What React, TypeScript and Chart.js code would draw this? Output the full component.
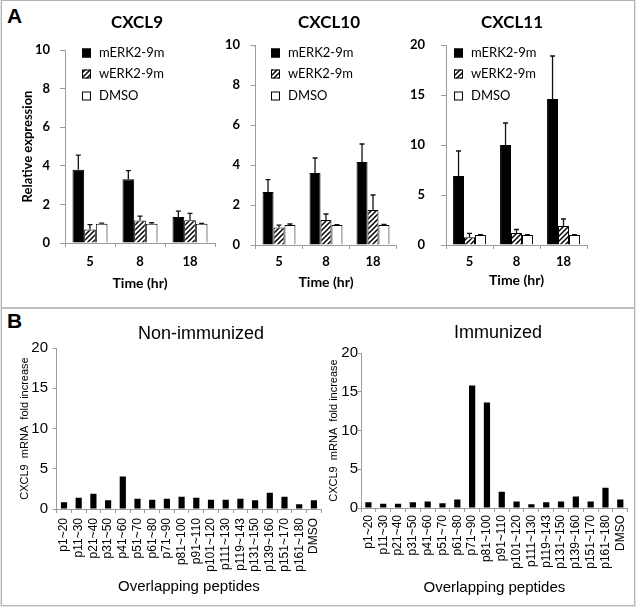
import React, { useEffect, useRef } from 'react';
import { Chart, registerables } from 'chart.js';

Chart.register(...registerables);

// ---------- Data ----------
const timeLabels = ['5', '8', '18'];
const seriesNames = ['mERK2-9m', 'wERK2-9m', 'DMSO'];

const cxcl9M = [3.8, 3.3, 1.35];
const cxcl9MErr = [0.75, 0.45, 0.3];
const cxcl9W = [0.7, 1.17, 1.18];
const cxcl9WErr = [0.25, 0.22, 0.35];
const cxcl9D = [1.0, 1.0, 1.0];
const cxcl9DErr = [0.03, 0.05, 0.02];

const cxcl10M = [2.65, 3.6, 4.15];
const cxcl10MErr = [0.62, 0.75, 0.9];
const cxcl10W = [0.87, 1.25, 1.75];
const cxcl10WErr = [0.12, 0.3, 0.75];
const cxcl10D = [1.0, 1.0, 1.0];
const cxcl10DErr = [0.05, 0.02, 0.03];

const cxcl11M = [6.9, 10.0, 14.6];
const cxcl11MErr = [2.5, 2.2, 4.3];
const cxcl11W = [0.77, 1.2, 1.9];
const cxcl11WErr = [0.4, 0.35, 0.7];
const cxcl11D = [1.0, 1.0, 1.0];
const cxcl11DErr = [0.03, 0.03, 0.03];

const peptides = [
  'p1~20', 'p11~30', 'p21~40', 'p31~50', 'p41~60', 'p51~70', 'p61~80', 'p71~90', 'p81~100',
  'p91~110', 'p101~120', 'p111~130', 'p119~143', 'p131~150', 'p139~160', 'p151~170', 'p161~180', 'DMSO',
];
const nonImmunized = [0.83, 1.4, 1.9, 1.08, 4.05, 1.28, 1.16, 1.28, 1.52, 1.4, 1.16, 1.16, 1.28, 1.08, 2.03, 1.52, 0.58, 1.08];
const immunized = [0.75, 0.55, 0.55, 0.75, 0.85, 0.6, 1.1, 15.8, 13.6, 2.1, 0.85, 0.5, 0.75, 0.85, 1.5, 0.85, 2.6, 1.1];

// ---------- Helpers ----------
const FONT_A = 'Lato, "Open Sans", sans-serif';
const FONT_B = '"Liberation Sans", Arial, sans-serif';
const AXIS_GRAY = '#9c9c9c';

type Frame = { cx: number; cy: number; cw: number; ch: number; L: number; T: number; R: number; B: number };

function layoutOf(f: Frame) {
  return {
    padding: { left: 0, top: f.T - f.cy, right: f.cx + f.cw - f.R, bottom: 0 },
    yW: f.L - f.cx,
    xH: f.cy + f.ch - f.B,
  };
}

function makeHatch(): any {
  const p = document.createElement('canvas');
  p.width = 5;
  p.height = 5;
  const c = p.getContext('2d');
  if (!c) return '#888';
  c.fillStyle = '#fff';
  c.fillRect(0, 0, 5, 5);
  c.strokeStyle = '#000';
  c.lineWidth = 1.5;
  c.beginPath();
  c.moveTo(0, 5);
  c.lineTo(5, 0);
  c.moveTo(-1, 1);
  c.lineTo(1, -1);
  c.moveTo(4, 6);
  c.lineTo(6, 4);
  c.stroke();
  const host = document.createElement('canvas').getContext('2d');
  return host ? host.createPattern(p, 'repeat') : '#888';
}

const errorBarPlugin = {
  id: 'errorBars',
  afterDatasetsDraw(chart: any) {
    const ctx = chart.ctx;
    const yScale = chart.scales.y;
    chart.data.datasets.forEach((ds: any, di: number) => {
      const errs: number[] | undefined = ds.errors;
      if (!errs) return;
      const meta = chart.getDatasetMeta(di);
      meta.data.forEach((bar: any, i: number) => {
        const v = ds.data[i];
        const e = errs[i];
        const yTop = yScale.getPixelForValue(v + e);
        const yBar = yScale.getPixelForValue(v);
        ctx.save();
        ctx.strokeStyle = '#111';
        ctx.lineWidth = 1.3;
        ctx.beginPath();
        ctx.moveTo(bar.x, yBar);
        ctx.lineTo(bar.x, yTop);
        ctx.moveTo(bar.x - 2.5, yTop);
        ctx.lineTo(bar.x + 2.5, yTop);
        ctx.stroke();
        ctx.restore();
      });
    });
  },
};

function textPlugin(f: Frame, items: { text: string; x: number; y: number; font: string }[]) {
  return {
    id: 'panelTexts',
    afterDraw(chart: any) {
      const ctx = chart.ctx;
      ctx.save();
      ctx.fillStyle = '#000';
      ctx.textAlign = 'center';
      ctx.textBaseline = 'middle';
      items.forEach((it) => {
        ctx.font = it.font;
        ctx.fillText(it.text, it.x - f.cx, it.y - f.cy);
      });
      ctx.restore();
    },
  };
}

function legendPlugin(f: Frame, boxX: number, rowsY: number[]) {
  return {
    id: 'innerLegend',
    afterDraw(chart: any) {
      const ctx = chart.ctx;
      chart.data.datasets.forEach((ds: any, i: number) => {
        const y = rowsY[i] - f.cy;
        const x = boxX - f.cx;
        ctx.save();
        ctx.fillStyle = ds.backgroundColor;
        ctx.fillRect(x, y - 4.5, 9, 9);
        ctx.strokeStyle = '#000';
        ctx.lineWidth = 1;
        ctx.strokeRect(x + 0.5, y - 4, 8, 8);
        ctx.fillStyle = '#000';
        ctx.font = `13px ${FONT_A}`;
        ctx.textBaseline = 'middle';
        ctx.textAlign = 'left';
        ctx.fillText(ds.label, x + 17, y);
        ctx.restore();
      });
    },
  };
}

// ---------- Panel A ----------
type ASpec = {
  frame: Frame;
  title: string;
  titleX: number;
  titleY: number;
  m: number[]; mErr: number[];
  w: number[]; wErr: number[];
  d: number[]; dErr: number[];
  yMax: number; yStep: number;
  yTitle: boolean; yTitlePad: number;
  yTickPad: number; xTickPad: number; xTitlePad: number;
  legendX: number; legendRows: number[];
};

function buildA(s: ASpec, hatch: any): any {
  const lay = layoutOf(s.frame);
  return {
    type: 'bar',
    data: {
      labels: timeLabels,
      datasets: [
        { label: seriesNames[0], data: s.m, errors: s.mErr, backgroundColor: '#000', borderColor: '#000', borderWidth: 1 },
        { label: seriesNames[1], data: s.w, errors: s.wErr, backgroundColor: hatch, borderColor: '#000', borderWidth: 1 },
        { label: seriesNames[2], data: s.d, errors: s.dErr, backgroundColor: '#fff', borderColor: '#000', borderWidth: 1 },
      ],
    },
    options: {
      responsive: false,
      animation: false,
      devicePixelRatio: 1,
      events: [],
      layout: { padding: lay.padding },
      datasets: { bar: { categoryPercentage: 0.7, barPercentage: 1 } },
      plugins: { legend: { display: false }, title: { display: false }, tooltip: { enabled: false } },
      scales: {
        x: {
          type: 'category',
          offset: true,
          grid: { display: true, offset: true, drawOnChartArea: false, drawTicks: true, tickLength: 4, color: AXIS_GRAY },
          border: { display: true, color: AXIS_GRAY, width: 1 },
          ticks: { color: '#000', font: { family: FONT_A, size: 13, weight: 'bold' }, padding: s.xTickPad, autoSkip: false, maxRotation: 0 },
          title: { display: true, text: 'Time (hr)', color: '#000', font: { family: FONT_A, size: 14, weight: 'bold' }, padding: { top: 0, bottom: s.xTitlePad } },
          afterFit: (sc: any) => { sc.height = lay.xH; sc.paddingLeft = 0; sc.paddingRight = 0; },
        },
        y: {
          min: 0,
          max: s.yMax,
          grid: { display: true, drawOnChartArea: false, drawTicks: true, tickLength: 5, color: AXIS_GRAY },
          border: { display: true, color: AXIS_GRAY, width: 1 },
          ticks: { stepSize: s.yStep, color: '#000', font: { family: FONT_A, size: 13, weight: 'bold' }, padding: s.yTickPad },
          title: s.yTitle
            ? { display: true, text: 'Relative expression', color: '#000', font: { family: FONT_A, size: 13, weight: 'bold' }, padding: { top: s.yTitlePad, bottom: 0 } }
            : { display: false },
          afterFit: (sc: any) => { sc.width = lay.yW; sc.paddingTop = 0; sc.paddingBottom = 0; },
        },
      },
    },
    plugins: [
      errorBarPlugin,
      legendPlugin(s.frame, s.legendX, s.legendRows),
      textPlugin(s.frame, [{ text: s.title, x: s.titleX, y: s.titleY, font: `bold 17px ${FONT_A}` }]),
    ],
  };
}

// ---------- Panel B ----------
type BSpec = {
  frame: Frame;
  title: string; titleX: number; titleY: number;
  values: number[];
  yTitlePad: number; yTickLen: number; yTickPad: number;
  xTickPad: number; xTitlePad: number;
};

function buildB(s: BSpec): any {
  const lay = layoutOf(s.frame);
  return {
    type: 'bar',
    data: {
      labels: peptides,
      datasets: [{ label: 'CXCL9', data: s.values, backgroundColor: '#000', borderWidth: 0 }],
    },
    options: {
      responsive: false,
      animation: false,
      devicePixelRatio: 1,
      events: [],
      layout: { padding: lay.padding },
      datasets: { bar: { categoryPercentage: 1, barPercentage: 0.42 } },
      plugins: { legend: { display: false }, title: { display: false }, tooltip: { enabled: false } },
      scales: {
        x: {
          type: 'category',
          offset: true,
          grid: { display: true, offset: true, drawOnChartArea: false, drawTicks: true, tickLength: 4, color: AXIS_GRAY },
          border: { display: true, color: AXIS_GRAY, width: 1 },
          ticks: { color: '#000', font: { family: FONT_B, size: 12 }, padding: s.xTickPad, autoSkip: false, minRotation: 90, maxRotation: 90 },
          title: { display: true, text: 'Overlapping peptides', color: '#000', font: { family: FONT_B, size: 15 }, padding: { top: 0, bottom: s.xTitlePad } },
          afterFit: (sc: any) => { sc.height = lay.xH; sc.paddingLeft = 0; sc.paddingRight = 0; },
        },
        y: {
          min: 0,
          max: 20,
          grid: { display: true, drawOnChartArea: false, drawTicks: true, tickLength: s.yTickLen, color: AXIS_GRAY },
          border: { display: true, color: AXIS_GRAY, width: 1 },
          ticks: { stepSize: 5, color: '#000', font: { family: FONT_B, size: 15 }, padding: s.yTickPad },
          title: { display: true, text: 'CXCL9  mRNA  fold increase', color: '#000', font: { family: FONT_B, size: 11 }, padding: { top: s.yTitlePad, bottom: 0 } },
          afterFit: (sc: any) => { sc.width = lay.yW; sc.paddingTop = 0; sc.paddingBottom = 0; },
        },
      },
    },
    plugins: [
      textPlugin(s.frame, [{ text: s.title, x: s.titleX, y: s.titleY, font: `18px ${FONT_B}` }]),
    ],
  };
}

// ---------- Specs ----------
const ROWS_A = [53, 74, 96];

const specCXCL9: ASpec = {
  frame: { cx: 0, cy: 0, cw: 222, ch: 300, L: 65, T: 50, R: 215, B: 243 },
  title: 'CXCL9', titleX: 137, titleY: 23,
  m: cxcl9M, mErr: cxcl9MErr, w: cxcl9W, wErr: cxcl9WErr, d: cxcl9D, dErr: cxcl9DErr,
  yMax: 10, yStep: 2, yTitle: true, yTitlePad: 20.2,
  yTickPad: 10, xTickPad: 7, xTitlePad: 8.6,
  legendX: 82, legendRows: ROWS_A,
};

const specCXCL10: ASpec = {
  frame: { cx: 222, cy: 0, cw: 190, ch: 300, L: 255.5, T: 45, R: 396.5, B: 245 },
  title: 'CXCL10', titleX: 329, titleY: 23,
  m: cxcl10M, mErr: cxcl10MErr, w: cxcl10W, wErr: cxcl10WErr, d: cxcl10D, dErr: cxcl10DErr,
  yMax: 10, yStep: 2, yTitle: false, yTitlePad: 0,
  yTickPad: 10.5, xTickPad: 5.2, xTitlePad: 9.6,
  legendX: 271, legendRows: ROWS_A,
};

const specCXCL11: ASpec = {
  frame: { cx: 410, cy: 0, cw: 226, ch: 300, L: 446, T: 45, R: 587, B: 245 },
  title: 'CXCL11', titleX: 512, titleY: 23,
  m: cxcl11M, mErr: cxcl11MErr, w: cxcl11W, wErr: cxcl11WErr, d: cxcl11D, dErr: cxcl11DErr,
  yMax: 20, yStep: 5, yTitle: false, yTitlePad: 0,
  yTickPad: 16, xTickPad: 5.2, xTitlePad: 11.6,
  legendX: 454, legendRows: ROWS_A,
};

const specNon: BSpec = {
  frame: { cx: 0, cy: 310, cw: 345, ch: 295, L: 56.65, T: 348, R: 321.25, B: 509 },
  title: 'Non-immunized', titleX: 201, titleY: 334,
  values: nonImmunized,
  yTitlePad: 18.4, yTickLen: 4, yTickPad: 4.6,
  xTickPad: 5, xTitlePad: 9,
};

const specImm: BSpec = {
  frame: { cx: 318, cy: 310, cw: 330, ch: 295, L: 361, T: 353, R: 627.7, B: 508 },
  title: 'Immunized', titleX: 498, titleY: 333,
  values: immunized,
  yTitlePad: 9.4, yTickLen: 3, yTickPad: 0,
  xTickPad: 3, xTitlePad: 8,
};

// ---------- Components ----------
function ChartCanvas({ frame, build }: { frame: Frame; build: () => any }) {
  const ref = useRef<HTMLCanvasElement | null>(null);
  useEffect(() => {
    if (!ref.current) return;
    const chart = new Chart(ref.current, build());
    return () => chart.destroy();
  }, []);
  return (
    <canvas
      ref={ref}
      width={frame.cw}
      height={frame.ch}
      style={{ position: 'absolute', left: frame.cx, top: frame.cy, width: frame.cw, height: frame.ch }}
    />
  );
}

export default function App() {
  const hatchRef = useRef<any>(null);
  const getHatch = () => {
    if (!hatchRef.current) hatchRef.current = makeHatch();
    return hatchRef.current;
  };
  const letterStyle: React.CSSProperties = {
    position: 'absolute',
    fontFamily: FONT_B,
    fontWeight: 'bold',
    fontSize: 21,
    lineHeight: '21px',
    color: '#000',
  };
  return (
    <div style={{ position: 'absolute', left: 0, top: 0, width: 636, height: 607, overflow: 'hidden', background: '#e4e4e4' }}>
      <div style={{ position: 'absolute', left: 1, top: 0, width: 634, height: 606, background: '#fff', border: '1px solid #b4b4b4', boxSizing: 'border-box' }} />
      <div style={{ position: 'absolute', left: 1, top: 307, width: 634, height: 2, background: '#c0c0c0' }} />
      <div style={{ ...letterStyle, left: 7, top: 5 }}>A</div>
      <div style={{ ...letterStyle, left: 7, top: 310 }}>B</div>
      <ChartCanvas frame={specCXCL9.frame} build={() => buildA(specCXCL9, getHatch())} />
      <ChartCanvas frame={specCXCL10.frame} build={() => buildA(specCXCL10, getHatch())} />
      <ChartCanvas frame={specCXCL11.frame} build={() => buildA(specCXCL11, getHatch())} />
      <ChartCanvas frame={specNon.frame} build={() => buildB(specNon)} />
      <ChartCanvas frame={specImm.frame} build={() => buildB(specImm)} />
    </div>
  );
}
